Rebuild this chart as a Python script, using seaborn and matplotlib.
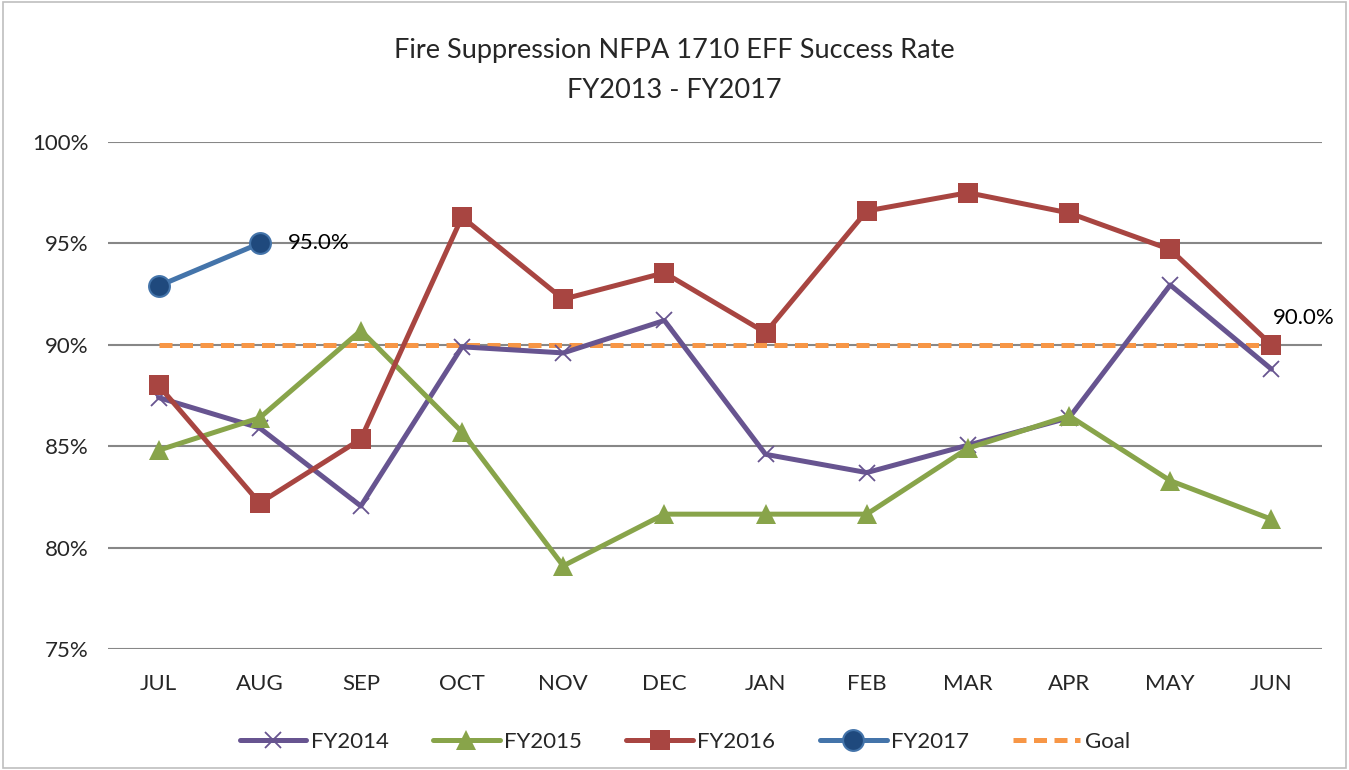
import numpy as np
import pandas as pd
import matplotlib
matplotlib.use("Agg")
import matplotlib.pyplot as plt
import seaborn as sns

# Données
months = ['JUL', 'AUG', 'SEP', 'OCT', 'NOV', 'DEC', 'JAN', 'FEB', 'MAR', 'APR', 'MAY', 'JUN']
fy2014 = [87.4, 85.9, 82.05, 89.9, 89.6, 91.2, 84.6, 83.7, 85.05, 86.4, 92.95, 88.8]
fy2015 = [84.8, 86.4, 90.7, 85.7, 79.1, 81.65, 81.65, 81.65, 84.9, 86.5, 83.3, 81.4]
fy2016 = [88.0, 82.2, 85.35, 96.3, 92.25, 93.55, 90.6, 96.6, 97.5, 96.5, 94.7, 90.0]
fy2017 = [92.9, 95.0]
goal = [90.0] * 12
y_ticks = [75, 80, 85, 90, 95, 100]

sns.set_theme(style="white")
plt.rcParams['font.family'] = ['Lato', 'DejaVu Sans']

fig = plt.figure(figsize=(13.49, 7.70), dpi=100)
ax = fig.add_axes([0.080, 0.1571, 0.900, 0.6585])

x = np.arange(len(months))

# Goal d'abord (en dessous)
sns.lineplot(x=x, y=goal, ax=ax, color='#F79646', lw=3.6, label='Goal', zorder=3)
ax.lines[-1].set_linestyle((0, (2.6, 1.5)))

sns.lineplot(x=x, y=fy2014, ax=ax, color='#675490', lw=3.6, marker='x',
             markersize=12, markeredgewidth=1.3, markeredgecolor='#675490',
             label='FY2014', zorder=4)
sns.lineplot(x=x, y=fy2015, ax=ax, color='#88A44A', lw=3.6, marker='^',
             markersize=14, markeredgewidth=0, label='FY2015', zorder=4)
sns.lineplot(x=x, y=fy2016, ax=ax, color='#A84541', lw=3.6, marker='s',
             markersize=14, markeredgewidth=0, label='FY2016', zorder=5)
sns.lineplot(x=x[:len(fy2017)], y=fy2017, ax=ax, color='#4474AA', lw=3.6,
             marker='o', markersize=15, markerfacecolor='#1F497D',
             markeredgecolor='#4474AA', markeredgewidth=1.5,
             label='FY2017', zorder=6)

# Étiquettes de données
ax.annotate(f"{fy2017[-1]:.1f}%", (x[len(fy2017) - 1], fy2017[-1]),
            xytext=(20, 0), textcoords='offset points', ha='left', va='center',
            fontsize=16, color='black')
ax.annotate(f"{fy2016[-1]:.1f}%", (x[-1], fy2016[-1]),
            xytext=(1, 19), textcoords='offset points', ha='left', va='center',
            fontsize=16, color='black')

ax.set_xlim(-0.5, len(months) - 0.5)
ax.set_ylim(75, 100)
ax.set_xticks(x)
ax.set_xticklabels(months, fontsize=16)
ax.set_yticks(y_ticks)
ax.set_yticklabels([f"{t}%" for t in y_ticks], fontsize=16)
ax.tick_params(axis='x', length=0, pad=18)
ax.tick_params(axis='y', length=0, pad=14)
ax.yaxis.grid(True, color='#878787', lw=1.5)
ax.set_axisbelow(True)
for s in ax.spines.values():
    s.set_visible(False)
ax.set_xlabel('')
ax.set_ylabel('')

fig.text(0.5, 0.935, "Fire Suppression NFPA 1710 EFF Success Rate",
         ha='center', va='center', fontsize=19.5)
fig.text(0.5, 0.883, "FY2013 - FY2017", ha='center', va='center', fontsize=19.5)

# Légende en bas
handles, labels = ax.get_legend_handles_labels()
order = ['FY2014', 'FY2015', 'FY2016', 'FY2017', 'Goal']
hmap = dict(zip(labels, handles))
ax.legend([hmap[k] for k in order], order, loc='center', bbox_to_anchor=(0.475, -0.183),
          ncol=5, frameon=False, fontsize=16, handlelength=3.0, columnspacing=2.0,
          handletextpad=0.2)

# Cadre du graphique
fig.patches.append(plt.Rectangle((0.002, 0.002), 0.996, 0.996, transform=fig.transFigure,
                                 fill=False, edgecolor='#BFBFBF', lw=1.2))

fig.savefig("out.png", dpi=100)
